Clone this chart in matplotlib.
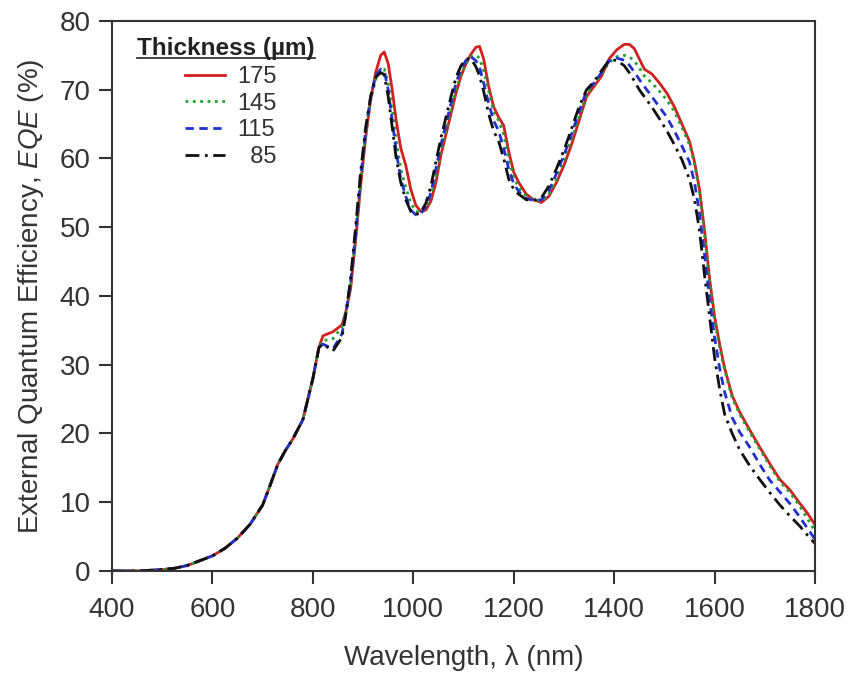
import numpy as np
import matplotlib
matplotlib.use("Agg")
import matplotlib.pyplot as plt
from matplotlib.lines import Line2D

plt.rcParams['font.family'] = ['Liberation Sans', 'DejaVu Sans']
plt.rcParams['mathtext.fontset'] = 'custom'
plt.rcParams['mathtext.rm'] = 'Liberation Sans'
plt.rcParams['mathtext.it'] = 'Liberation Sans:italic'

# wavelength grid (nm)
wl = [400, 450, 500, 525, 550, 575, 600, 625, 650, 675, 700, 715, 730, 745, 760, 780,
      800, 812, 820, 840, 858, 866, 875, 885, 895, 905, 915, 925, 935, 942, 950, 958,
      966, 975, 985, 995, 1005, 1015, 1025, 1035, 1045, 1055, 1065, 1075, 1085, 1095,
      1105, 1115, 1125, 1132, 1140, 1150, 1160, 1170, 1180, 1190, 1200, 1210, 1225,
      1240, 1255, 1270, 1285, 1300, 1315, 1330, 1345, 1360, 1375, 1390, 1405, 1420,
      1430, 1440, 1450, 1460, 1475, 1490, 1505, 1520, 1535, 1550, 1560, 1570, 1580,
      1590, 1600, 1610, 1620, 1635, 1650, 1670, 1690, 1710, 1730, 1750, 1770, 1785, 1800]

# common short-wavelength part (identical for all thicknesses)
low = [0, 0, 0.2, 0.4, 0.8, 1.5, 2.2, 3.3, 4.8, 6.8, 9.6, 12.5, 15.5, 17.5, 19.2, 22.0,
       28.0, 32.5]

eqe_175 = low + [34.2, 34.8, 35.8, 37.8, 41.0, 48.0, 56.0, 63.0, 68.5, 72.5, 75.0, 75.5,
                 73.8, 70.0, 65.5, 61.5, 59.0, 55.5, 53.2, 52.3, 52.5, 53.8, 56.5, 60.5,
                 63.5, 66.5, 69.5, 72.0, 73.8, 75.2, 76.2, 76.3, 74.5, 70.5, 67.5, 66.0,
                 64.8, 61.0, 58.0, 56.5, 54.8, 54.0, 53.6, 54.5, 56.5, 59.0, 62.0, 65.5,
                 69.0, 70.5, 72.0, 74.5, 75.8, 76.6, 76.6, 76.0, 74.5, 73.0, 72.3, 71.0,
                 69.5, 67.5, 65.0, 62.5, 59.5, 55.5, 49.5, 42.5, 37.0, 33.0, 29.5, 25.5,
                 23.1, 20.5, 18.0, 15.6, 13.3, 11.8, 9.8, 8.4, 6.7]

eqe_145 = low + [33.5, 33.8, 35.5, 37.8, 41.5, 48.5, 56.5, 63.5, 68.5, 71.5, 72.8, 73.0,
                 71.0, 67.0, 62.5, 58.5, 55.8, 53.5, 52.3, 52.2, 52.8, 54.5, 57.5, 61.0,
                 64.0, 67.0, 70.0, 72.3, 73.8, 74.8, 75.0, 74.6, 72.8, 69.8, 66.8, 65.5,
                 63.5, 60.0, 57.2, 55.8, 54.5, 54.0, 53.8, 54.8, 57.0, 59.8, 62.8, 66.0,
                 69.3, 70.8, 72.3, 74.0, 74.8, 75.0, 74.8, 74.2, 73.2, 72.0, 71.0, 69.8,
                 68.5, 66.8, 64.5, 62.0, 59.3, 55.0, 49.0, 42.0, 36.5, 32.5, 29.2, 25.2,
                 22.8, 20.2, 17.7, 15.3, 13.0, 11.4, 9.4, 7.6, 5.8]

eqe_115 = low + [33.0, 32.3, 34.5, 37.5, 42.0, 49.0, 57.0, 64.0, 69.0, 72.0, 73.0, 72.8,
                 70.0, 65.5, 61.0, 57.0, 54.5, 52.5, 51.8, 52.0, 53.0, 55.0, 58.5, 62.0,
                 65.0, 68.0, 71.0, 73.0, 74.3, 74.8, 74.2, 73.2, 71.0, 68.0, 65.5, 64.0,
                 61.5, 58.5, 56.3, 55.2, 54.2, 53.9, 54.0, 55.3, 57.8, 60.5, 63.5, 66.8,
                 69.8, 71.0, 72.5, 74.2, 74.6, 74.3, 73.6, 72.6, 71.5, 70.5, 69.0, 67.5,
                 66.0, 64.0, 61.8, 59.5, 56.5, 52.0, 46.0, 39.5, 34.0, 29.5, 26.0, 22.3,
                 20.2, 18.0, 15.5, 13.2, 11.5, 9.8, 7.8, 6.2, 4.6]

eqe_85 = low + [33.0, 32.0, 34.0, 37.5, 42.5, 50.0, 58.0, 64.5, 69.0, 71.8, 72.5, 72.2,
                69.0, 64.5, 60.0, 56.5, 54.0, 52.3, 51.8, 52.2, 53.5, 56.0, 59.5, 63.0,
                66.0, 69.0, 71.8, 73.5, 74.5, 74.5, 73.3, 72.0, 69.8, 66.5, 64.0, 62.5,
                60.0, 57.0, 55.5, 54.8, 54.0, 53.9, 54.3, 56.0, 58.5, 61.2, 64.3, 67.5,
                70.0, 71.2, 72.8, 74.3, 74.3, 73.5, 72.5, 71.3, 70.0, 69.0, 67.5, 65.8,
                64.0, 62.0, 59.8, 57.0, 54.0, 49.5, 43.0, 37.0, 31.0, 26.5, 22.8, 20.0,
                17.6, 15.3, 13.3, 11.4, 9.6, 8.0, 6.5, 5.2, 4.0]

labels = ["175", "145", "115", "  85"]
series = [eqe_175, eqe_145, eqe_115, eqe_85]
colors = ["#d02020", "#20a030", "#2030d0", "#101010"]
styles = ["-", ":", (0, (3, 2)), (0, (5, 2, 1, 2))]

fig = plt.figure(figsize=(8.52, 6.73), dpi=100)
ax = fig.add_axes([0.1315, 0.1516, 0.8251, 0.8172])

for y, c, ls, lab in zip(series, colors, styles, labels):
    ax.plot(wl, y, color=c, linestyle=ls, linewidth=2, label=lab)

ax.set_xlim(400, 1800)
ax.set_ylim(0, 80)
ax.set_xticks(np.arange(400, 1801, 200))
ax.set_yticks(np.arange(0, 81, 10))
ax.tick_params(direction='out', length=9.5, width=1.5, labelsize=20, color='#333333',
               labelcolor='#333333', top=False, right=False, pad=6)
ax.tick_params(axis='x', pad=9)
for s in ax.spines.values():
    s.set_linewidth(1.5)
    s.set_color('#333333')

ax.set_xlabel("Wavelength, \u03bb (nm)", fontsize=20, color='#333333', labelpad=16)
ax.set_ylabel("External Quantum Efficiency, $\\mathit{EQE}$ (%)", fontsize=20,
              color='#333333', labelpad=10)

leg = ax.legend(loc='upper left', bbox_to_anchor=(0.087, 0.94), frameon=False,
                fontsize=17, handlelength=1.7, handletextpad=0.5, labelspacing=0.2,
                borderpad=0)
for t in leg.get_texts():
    t.set_color('#333333')

# legend heading, bold and underlined
title = fig.text(226 / 852, 1 - 48 / 673, "Thickness (\u00b5m)", fontsize=17.5,
                 fontweight='bold', ha='center', va='center', color='#222222')
fig.canvas.draw()
bb = title.get_window_extent().transformed(fig.transFigure.inverted())
fig.add_artist(Line2D([bb.x0, bb.x1], [bb.y0 + 0.002, bb.y0 + 0.002],
                      transform=fig.transFigure, color='#222222', linewidth=1.2))

fig.savefig("out.png", dpi=100)
